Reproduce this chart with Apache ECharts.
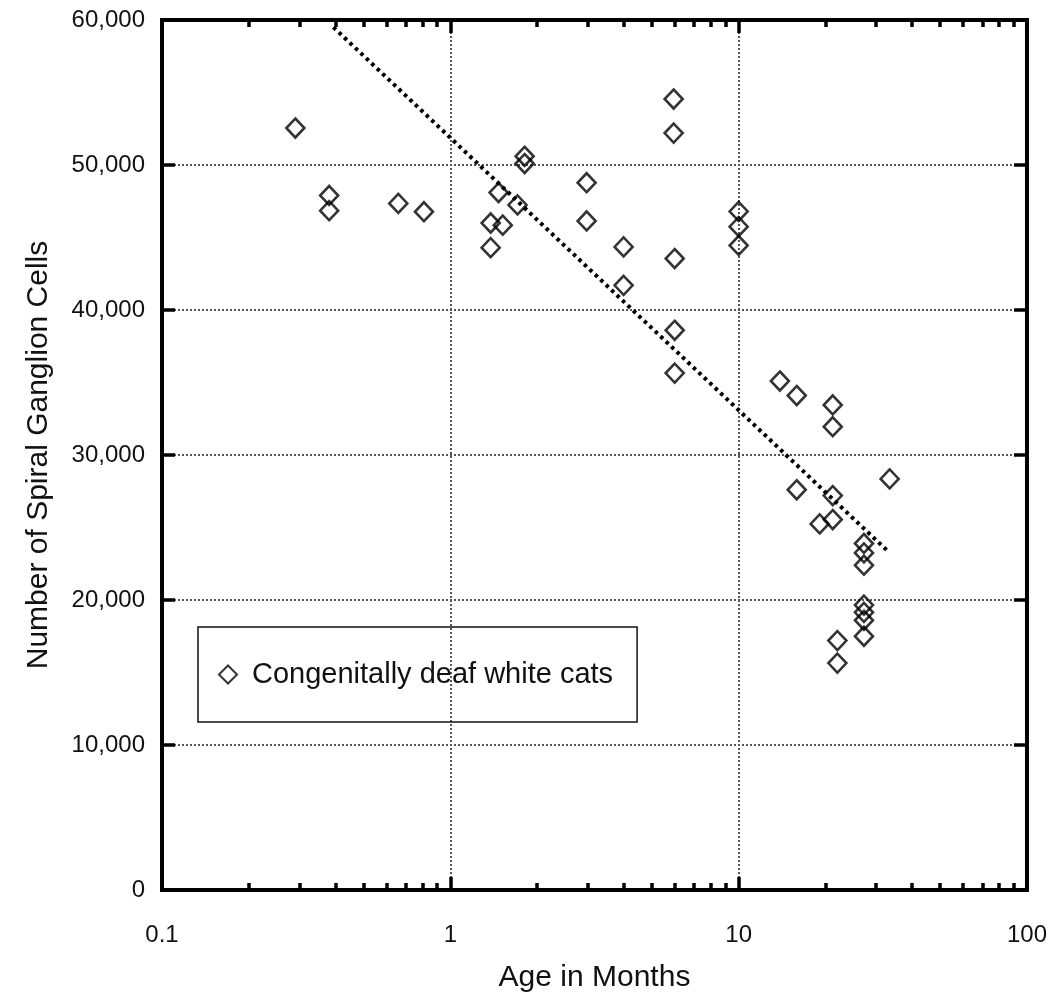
<!DOCTYPE html>
<html>
<head>
<meta charset="utf-8">
<script src="https://cdn.jsdelivr.net/npm/echarts@6/dist/echarts.min.js"></script>
<style>
  html, body { margin: 0; padding: 0; background: #fff; }
  #chart { width: 1050px; height: 1001px; }
</style>
</head>
<body>
<div id="chart"></div>
<script>
// age (months) and spiral ganglion cell count for each cat
const ages = [0.29, 0.38, 0.38, 0.66, 0.81, 1.38, 1.38, 1.47, 1.52, 1.71, 1.81, 1.81,
  2.97, 2.97, 3.99, 3.99, 5.95, 5.95, 6.0, 6.0, 6.0, 10.0, 10.0, 10.0,
  13.9, 15.9, 15.9, 19.1, 21.2, 21.2, 21.2, 21.2, 22.0, 22.0,
  27.2, 27.2, 27.2, 27.2, 27.2, 27.2, 27.2, 33.4];
const cells = [52550, 47900, 46850, 47350, 46780, 46000, 44300, 48100, 45850, 47250, 50600, 50100,
  48780, 46140, 44350, 41700, 54550, 52200, 43550, 38600, 35650, 46800, 45750, 44450,
  35100, 34100, 27600, 25250, 33450, 31950, 27200, 25550, 17200, 15650,
  23900, 23250, 22400, 19650, 19150, 18600, 17500, 28350];
// fitted trend line end points
const trendX = [0.393, 33.2];
const trendY = [59500, 23300];
// axis ticks
const xMinor = [0.2, 0.3, 0.4, 0.5, 0.6, 0.7, 0.8, 0.9, 2, 3, 4, 5, 6, 7, 8, 9, 20, 30, 40, 50, 60, 70, 80, 90];

const seriesName = "Congenitally deaf white cats";
const font = "'Liberation Sans', Arial, Helvetica, sans-serif";

const chart = echarts.init(document.getElementById("chart"));

const tickLine = { color: "#000", width: 3.5 };
const gridLine = { color: "#555", width: 2, type: [2, 2] };
const minorLogTicks = xMinor.map((v) => Math.log10(v));

const option = {
  animation: false,
  backgroundColor: "#fff",
  textStyle: { fontFamily: font, color: "#111" },
  grid: {
    left: 162,
    right: 23,
    top: 20,
    bottom: 111,
    show: true,
    borderColor: "#000",
    borderWidth: 4,
    backgroundColor: "transparent",
  },
  legend: {
    left: 198,
    top: 627,
    orient: "vertical",
    padding: [33, 24, 33, 20],
    borderColor: "#111",
    borderWidth: 1.5,
    itemWidth: 18,
    itemHeight: 18,
    data: [seriesName],
    textStyle: { fontFamily: font, fontSize: 29, color: "#111", padding: [0, 0, 0, 10] },
    itemStyle: { color: "rgba(0,0,0,0)", borderColor: "#000", borderWidth: 2 },
  },
  xAxis: [
    {
      type: "log",
      logBase: 10,
      min: 0.1,
      max: 100,
      position: "bottom",
      name: "Age in Months",
      nameLocation: "middle",
      nameGap: 73,
      nameTextStyle: { fontFamily: font, fontSize: 30, color: "#111" },
      axisLine: { show: false, onZero: false },
      axisTick: { inside: true, length: 13, lineStyle: tickLine },
      axisLabel: {
        margin: 33,
        fontSize: 24,
        fontFamily: font,
        color: "#111",
        formatter: (v) => String(Number(v.toPrecision(3))),
      },
      splitLine: { show: true, showMinLine: false, showMaxLine: false, lineStyle: gridLine },
    },
    {
      type: "log",
      logBase: 10,
      min: 0.1,
      max: 100,
      position: "top",
      axisLine: { show: false, onZero: false },
      axisTick: { inside: true, length: 13, lineStyle: tickLine },
      axisLabel: { show: false },
      splitLine: { show: false },
    },
    {
      // minor ticks (bottom), placed in log10 space
      type: "value",
      min: -1,
      max: 2,
      position: "bottom",
      axisLine: { show: false, onZero: false },
      axisTick: { inside: true, length: 7, lineStyle: tickLine, customValues: minorLogTicks },
      axisLabel: { show: false },
      splitLine: { show: false },
    },
    {
      // minor ticks (top)
      type: "value",
      min: -1,
      max: 2,
      position: "top",
      axisLine: { show: false, onZero: false },
      axisTick: { inside: true, length: 7, lineStyle: tickLine, customValues: minorLogTicks },
      axisLabel: { show: false },
      splitLine: { show: false },
    },
  ],
  yAxis: [
    {
      type: "value",
      min: 0,
      max: 60000,
      interval: 10000,
      position: "left",
      name: "Number of Spiral Ganglion Cells",
      nameLocation: "middle",
      nameGap: 108,
      nameTextStyle: { fontFamily: font, fontSize: 30, color: "#111" },
      axisLine: { show: false, onZero: false },
      axisTick: { inside: true, length: 13, lineStyle: tickLine },
      axisLabel: {
        margin: 17,
        fontSize: 24,
        fontFamily: font,
        color: "#111",
        formatter: (v) => v.toLocaleString("en-US"),
      },
      splitLine: { show: true, showMinLine: false, showMaxLine: false, lineStyle: gridLine },
    },
    {
      type: "value",
      min: 0,
      max: 60000,
      interval: 10000,
      position: "right",
      axisLine: { show: false, onZero: false },
      axisTick: { inside: true, length: 13, lineStyle: tickLine },
      axisLabel: { show: false },
      splitLine: { show: false },
    },
  ],
  series: [
    {
      name: "trend",
      type: "line",
      xAxisIndex: 0,
      yAxisIndex: 0,
      data: trendX.map((x, i) => [x, trendY[i]]),
      symbol: "none",
      lineStyle: { color: "#000", width: 4, type: [3.5, 4] },
      z: 3,
    },
    {
      name: seriesName,
      type: "scatter",
      xAxisIndex: 0,
      yAxisIndex: 0,
      data: ages.map((a, i) => [a, cells[i]]),
      symbol: "diamond",
      symbolSize: [18, 19],
      itemStyle: { color: "rgba(0,0,0,0)", borderColor: "#000", borderWidth: 2.6 },
      z: 4,
    },
  ],
};

chart.setOption(option);
</script>
</body>
</html>
